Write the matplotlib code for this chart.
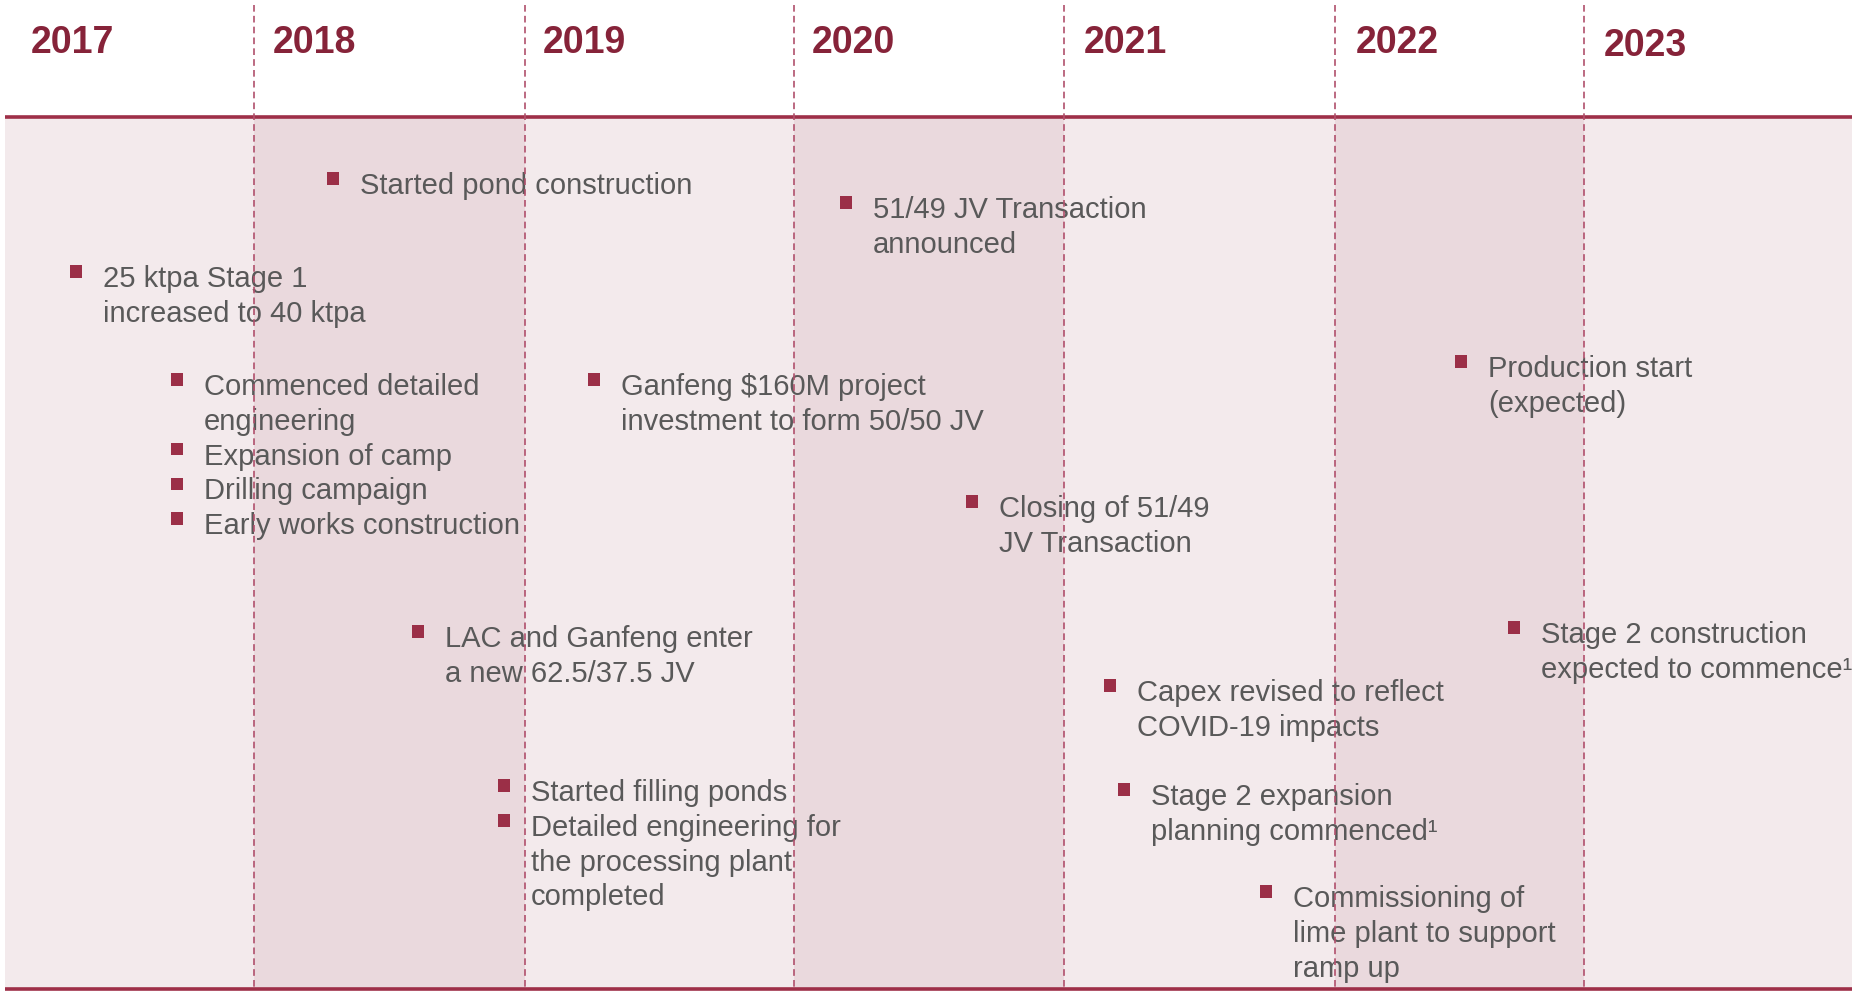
import matplotlib
matplotlib.use("Agg")
import matplotlib.pyplot as plt
from matplotlib.patches import Rectangle

# ---------------- data ----------------
years = ["2017", "2018", "2019", "2020", "2021", "2022", "2023"]
shaded_years = ["2018", "2020", "2022"]

events = [
    [["Started pond construction"]],
    [["25 ktpa Stage 1", "increased to 40 ktpa"]],
    [["51/49 JV Transaction", "announced"]],
    [["Commenced detailed", "engineering"], ["Expansion of camp"],
     ["Drilling campaign"], ["Early works construction"]],
    [["Ganfeng $160M project", "investment to form 50/50 JV"]],
    [["Production start", "(expected)"]],
    [["Closing of 51/49", "JV Transaction"]],
    [["LAC and Ganfeng enter", "a new 62.5/37.5 JV"]],
    [["Stage 2 construction", "expected to commence\u00b9"]],
    [["Capex revised to reflect", "COVID-19 impacts"]],
    [["Started filling ponds"], ["Detailed engineering for",
     "the processing plant", "completed"]],
    [["Stage 2 expansion", "planning commenced\u00b9"]],
    [["Commissioning of", "lime plant to support", "ramp up"]],
]

# ---------------- layout (pixels) ----------------
W, H = 1852, 999
year_edges = [5, 254, 525, 794, 1064, 1335, 1584, 1852]
year_text_x = [31, 273, 543, 812, 1084, 1356, 1604]
year_baseline = [53, 53, 53, 53, 53, 53, 55.5]
top_y, bot_y = 117, 989
# (text x, first baseline) of each event group
event_pos = [
    (360, 194), (103, 287), (873, 218), (204, 395), (621, 395),
    (1488, 377), (999, 517), (445, 647), (1541, 643), (1137, 701),
    (531, 801), (1151, 805), (1293, 907),
]
line_step = 34.8
bullet_dx = 27
bullet_dy = 15.5
bullet_size = 12.5

# ---------------- style ----------------
header_col = "#862339"
bullet_col = "#9B2F47"
text_col = "#595959"
line_col = "#9E2F48"
div_col = "#B0506C"
bg_light = "#F3EAEC"
bg_dark = "#EAD9DD"
plt.rcParams["font.family"] = ["Liberation Sans", "DejaVu Sans"]

fig = plt.figure(figsize=(W / 100, H / 100), dpi=100)
ax = fig.add_axes([0, 0, 1, 1])
ax.set_xlim(0, W)
ax.set_ylim(H, 0)
ax.axis("off")

# background bands
for i, y in enumerate(years):
    x0, x1 = year_edges[i], year_edges[i + 1]
    col = bg_dark if y in shaded_years else bg_light
    ax.add_patch(Rectangle((x0, top_y), x1 - x0, bot_y - top_y,
                           facecolor=col, edgecolor="none", zorder=0))

# horizontal rules
ax.plot([5, W], [top_y, top_y], color=line_col, lw=2.6, zorder=2,
        solid_capstyle="butt")
ax.plot([5, W], [bot_y, bot_y], color=line_col, lw=2.6, zorder=2,
        solid_capstyle="butt")

# dashed year dividers
for x in year_edges[1:-1]:
    ax.plot([x, x], [5, bot_y], color=div_col, lw=1.2,
            linestyle=(0, (4, 2.5)), zorder=3)

# year labels
for i, y in enumerate(years):
    ax.text(year_text_x[i], year_baseline[i], y, fontsize=27,
            fontweight="bold", color=header_col, ha="left", va="baseline",
            zorder=4)

# events
for (tx, ty), group in zip(event_pos, events):
    k = 0
    for item in group:
        by = ty + k * line_step
        ax.add_patch(Rectangle((tx - bullet_dx - bullet_size / 2,
                                by - bullet_dy - bullet_size / 2),
                               bullet_size, bullet_size,
                               facecolor=bullet_col, edgecolor="none",
                               zorder=4))
        for line in item:
            ax.text(tx, ty + k * line_step, line, fontsize=21,
                    color=text_col, ha="left", va="baseline", zorder=1)
            k += 1

fig.savefig("out.png", dpi=100, facecolor="white")
